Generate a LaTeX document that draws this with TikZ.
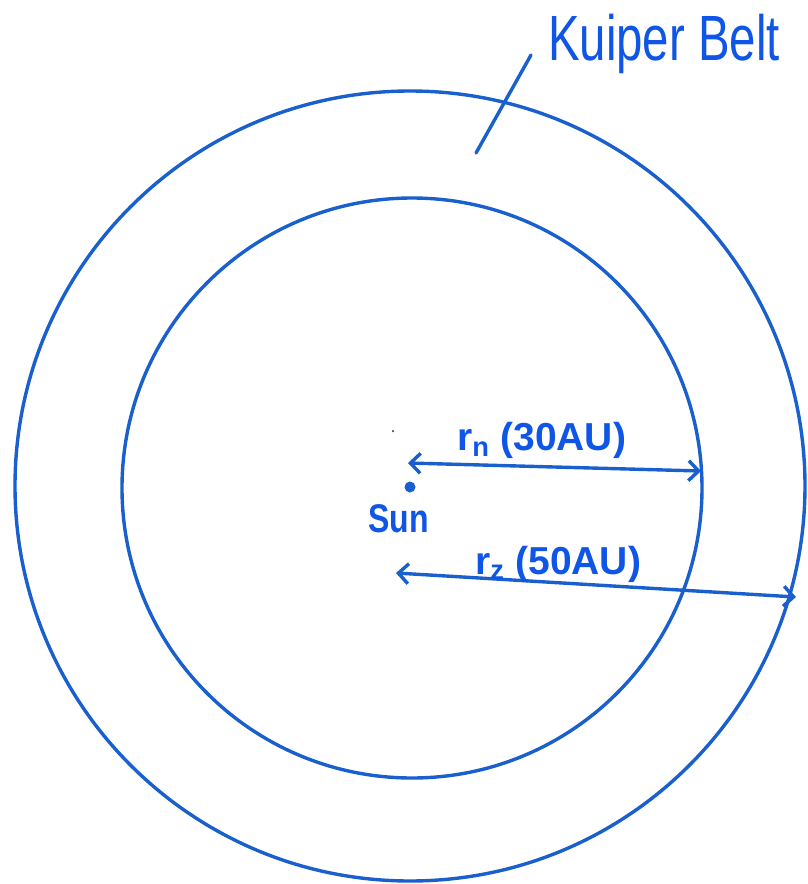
\documentclass[tikz,border=0pt]{standalone}
\usepackage{fontspec}
\setmainfont{Liberation Sans}
\usetikzlibrary{arrows.meta}
\definecolor{inkline}{RGB}{25,95,205}
\definecolor{inktext}{RGB}{15,85,230}
\begin{document}
\begin{tikzpicture}[x=1pt,y=-1pt,
  ring/.style={draw=inkline, line width=3.4pt, circle, inner sep=0pt},
  ink/.style={draw=inkline, line width=3.4pt, line cap=round},
  dimarrow/.style={ink, {Straight Barb[length=10pt,width=20pt]}-{Straight Barb[length=10pt,width=20pt]}},
  lbl/.style={text=inktext, inner sep=0pt, anchor=base west}]
\useasboundingbox (0,0) rectangle (807,884);
% rings
\node[ring, minimum size=790pt] (outer) at (410,486) {};
\node[ring, minimum size=580pt] (inner) at (412,488) {};
% sun and speck
\node[circle, fill=inkline, minimum size=11pt, inner sep=0pt] (sun) at (410,487) {};
\node[circle, fill=black!70, minimum size=2.5pt, inner sep=0pt] (speck) at (393,431) {};
\node[lbl, font=\fontsize{40}{40}\selectfont\bfseries, xscale=0.8, transform shape] (sunlbl) at (368,532) {Sun};
% radius arrows
\coordinate (a1s) at (408,463);
\coordinate (a1e) at (701,471);
\draw[dimarrow] (a1s) -- (a1e);
\coordinate (a2s) at (396,573);
\coordinate (a2e) at (796,597);
\draw[dimarrow] (a2s) -- (a2e);
\node[lbl, font=\fontsize{39}{39}\selectfont\bfseries] (rn) at (457,450) {r\textsubscript{n} (30AU)};
\node[lbl, font=\fontsize{39}{39}\selectfont\bfseries] (rz) at (475,574) {r\textsubscript{z} (50AU)};
% Kuiper Belt label
\node[lbl, font=\fontsize{64}{64}\selectfont, xscale=0.74, transform shape] (kb) at (548,60) {Kuiper Belt};
\coordinate (leadlow) at (476,153);
\coordinate (leadtop) at (531,55);
\draw[ink] (leadlow) -- (leadtop);
\end{tikzpicture}
\end{document}
